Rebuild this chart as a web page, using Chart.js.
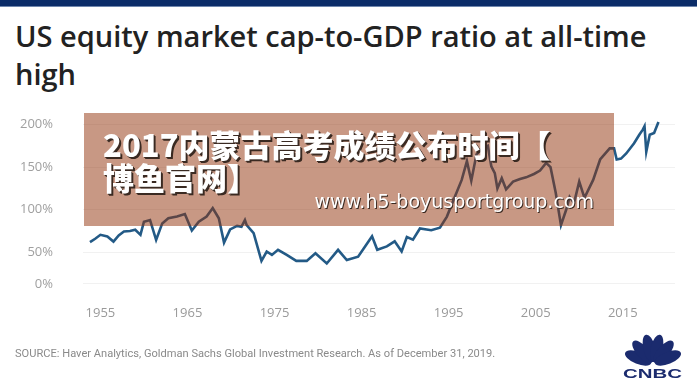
<!DOCTYPE html>
<html>
<head>
<meta charset="utf-8">
<script src="https://cdn.jsdelivr.net/npm/chart.js"></script>
<style>
  html, body { margin: 0; padding: 0; background: #fff; }
  body { width: 697px; height: 392px; position: relative; overflow: hidden; font-family: "Open Sans", sans-serif; }
  #topbar { position: absolute; left: 0; top: 0; width: 697px; height: 6px; background: #0b2c68; border-bottom: 1px solid #6f86ad; }
  .title { position: absolute; left: 15px; font-weight: 600; font-size: 25px; color: #222; white-space: nowrap; }
  #chart { position: absolute; left: 0; top: 0; }
  #source { position: absolute; left: 15px; top: 347px; font-family: Roboto, sans-serif; font-size: 11.1px; color: #8a8a8a; white-space: nowrap; }
  #overlay { position: absolute; left: 84px; top: 113px; width: 530px; height: 113px; background: rgba(145, 50, 10, 0.5); }
  #ad1 { position: absolute; left: 19px; top: 14px; font-family: "Noto Sans CJK SC", sans-serif; font-weight: 900; font-size: 31px; line-height: 33px; color: #fff; text-shadow: 2px 2px 0 #3a2a22, 1px 1px 0 #3a2a22; white-space: nowrap; }
  #ad2 { position: absolute; right: 20px; top: 77px; font-family: "DejaVu Sans", sans-serif; font-size: 19px; color: #fff; text-shadow: 1px 1px 0 #3a2a22; white-space: nowrap; }
  #logo { position: absolute; left: 618px; top: 328px; }
</style>
</head>
<body>
<div id="topbar"></div>
<div class="title" id="t1" style="top:16px">US equity market cap-to-GDP ratio at all-time</div>
<div class="title" style="top:54px">high</div>
<canvas id="chart" width="697" height="392"></canvas>
<div id="overlay">
  <div id="ad1">2017内蒙古高考成绩公布时间【<br>博鱼官网】</div>
  <div id="ad2">www.h5-boyusportgroup.com</div>
</div>
<div id="source">SOURCE: Haver Analytics, Goldman Sachs Global Investment Research. As of December 31, 2019.</div>
<svg id="logo" width="72" height="56" viewBox="0 0 72 56">
  <g fill="#1b2b6e">
    <ellipse cx="35" cy="20" rx="6" ry="14" transform="rotate(-68 35 36)"/>
    <ellipse cx="35" cy="20" rx="6" ry="14" transform="rotate(-41 35 36)"/>
    <ellipse cx="35" cy="20" rx="6" ry="14" transform="rotate(-13.5 35 36)"/>
    <ellipse cx="35" cy="20" rx="6" ry="14" transform="rotate(13.5 35 36)"/>
    <ellipse cx="35" cy="20" rx="6" ry="14" transform="rotate(41 35 36)"/>
    <ellipse cx="35" cy="20" rx="6" ry="14" transform="rotate(68 35 36)"/>
  </g>
  <text x="5" y="50" textLength="59" lengthAdjust="spacingAndGlyphs" font-family="Liberation Sans, Arial, sans-serif" font-weight="bold" font-size="13" fill="#1b2b6e">CNBC</text>
</svg>
<script>
const years = [1953.8, 1954.4, 1955.0, 1955.8, 1956.5, 1957.1, 1957.7, 1958.4, 1959.0, 1959.6,
  1960.0, 1960.7, 1961.4, 1962.1, 1962.8, 1963.8, 1964.7, 1965.5, 1966.3, 1967.2,
  1967.9, 1968.6, 1969.2, 1969.9, 1970.7, 1971.2, 1971.6, 1971.8, 1972.6, 1973.5,
  1974.1, 1974.7, 1975.4, 1976.4, 1977.5, 1978.7, 1979.7, 1981.0, 1982.3, 1983.3,
  1984.6, 1985.4, 1986.2, 1986.8, 1987.9, 1988.8, 1989.6, 1990.2, 1990.9, 1991.7,
  1993.0, 1994.0, 1994.8, 1995.7, 1996.5, 1997.1, 1997.6, 1998.2, 1998.8, 1999.5,
  1999.9, 2000.3, 2000.6, 2001.1, 2001.6, 2002.4, 2003.2, 2003.9, 2004.8, 2005.5,
  2006.2, 2006.7, 2007.3, 2007.9, 2008.5, 2008.9, 2009.4, 2010.0, 2010.6, 2011.6,
  2012.4, 2013.5, 2014.0, 2014.3, 2014.8, 2015.4, 2016.3, 2016.9, 2017.3, 2017.5,
  2017.7, 2018.1, 2018.6, 2019.1];
const ratio = [62, 66, 70.6, 68.6, 62.7, 70, 74.5, 75, 76.5, 70.6,
  86, 88, 64.7, 84, 90, 92, 95, 75.7, 86, 92,
  102, 90, 61.5, 77, 81, 80, 88, 82, 72.5, 40,
  51, 47, 53, 47, 40, 40, 49, 37, 53, 41,
  45, 57, 69, 53, 57, 63, 51, 68, 65, 78,
  76, 79, 92, 115, 135, 157, 134, 165, 171, 175,
  151, 143, 125, 137, 124, 133, 136, 138, 142, 146,
  155, 150, 120, 82, 100, 115, 108, 133, 114, 135,
  159, 172, 172, 159, 160, 166, 178, 188, 194, 198,
  168, 188, 190, 203];
const xTickYears = [1955, 1965, 1975, 1985, 1995, 2005, 2015];
const yTickValues = [13, 50, 100, 150, 200];
const yTickLabels = ['0%', '50%', '100%', '150%', '200%'];

// stretch the title to the width it has in the picture
const t1 = document.getElementById('t1');
const s = 632 / t1.getBoundingClientRect().width;
document.querySelectorAll('.title').forEach(el => el.style.fontSize = (25 * s) + 'px');

const points = years.map((y, i) => ({x: y, y: ratio[i]}));

new Chart(document.getElementById('chart'), {
  type: 'line',
  data: {
    datasets: [{
      data: points,
      borderColor: '#235a86',
      borderWidth: 2.6,
      pointRadius: 0,
      tension: 0,
      fill: false
    }]
  },
  options: {
    responsive: false,
    animation: false,
    layout: { padding: { top: 116, right: 22, bottom: 0, left: 0 } },
    plugins: { legend: { display: false }, tooltip: { enabled: false } },
    scales: {
      x: {
        type: 'linear',
        min: 1953,
        max: 2021,
        afterFit: scale => { scale.height = 97; },
        afterBuildTicks: scale => { scale.ticks = xTickYears.map(v => ({value: v})); },
        grid: { display: false },
        border: { display: false },
        ticks: {
          padding: 2,
          color: '#9a9a9a',
          font: { family: 'Open Sans', size: 13 },
          callback: v => String(v)
        }
      },
      y: {
        min: 0,
        max: 210,
        afterFit: scale => { scale.width = 83; },
        afterBuildTicks: scale => { scale.ticks = yTickValues.map(v => ({value: v})); },
        grid: { color: '#f1f1f1', drawTicks: false },
        border: { display: false },
        ticks: {
          padding: 30,
          color: '#a0a0a0',
          font: { family: 'Open Sans', size: 13 },
          callback: v => yTickLabels[yTickValues.indexOf(v)]
        }
      }
    }
  }
});
</script>
</body>
</html>
